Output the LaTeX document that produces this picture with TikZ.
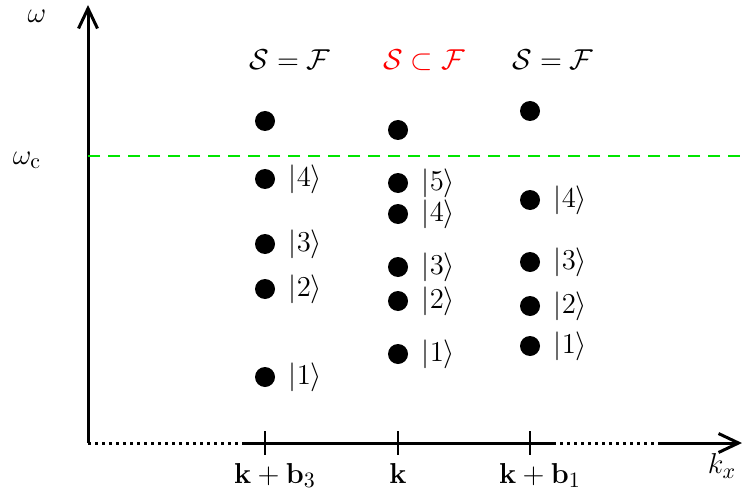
\documentclass[tikz,border=0pt]{standalone}
\usetikzlibrary{arrows.meta,positioning}
\definecolor{cutgreen}{rgb}{0,0.9,0}
\begin{document}
\begin{tikzpicture}[x=0.5pt,y=-0.5pt,
  lbl/.style={font=\fontsize{15.5}{18}\selectfont},
  dot/.style={circle,fill=black,inner sep=0pt,minimum size=10pt},
  ket/.style={right=6pt of #1,lbl,inner sep=0.5pt},
  axis/.style={line width=1.5pt},
  barb/.style={-{Straight Barb[length=10pt,width=9.5pt]}}]
\useasboundingbox (0,0) rectangle (742,502);
% axes
\coordinate (O) at (88,443);
\coordinate (ytop) at (88,5);
\coordinate (xa) at (243,443);
\coordinate (xb) at (553,443);
\coordinate (xc) at (660,443);
\coordinate (xtip) at (742,443);
\draw[axis,barb] (O) -- (ytop);
\draw[line width=1.5pt,dotted] (O) -- (xa);
\draw[axis] (xa) -- (xb);
\draw[line width=1.5pt,dotted] (xb) -- (xc);
\draw[axis,barb] (xc) -- (xtip);
\node[lbl] (w) at (37,16) {$\omega$};
\node[lbl] (kx) at (722,466) {$k_x$};
% cutoff
\coordinate (cut0) at (88,156);
\coordinate (cut1) at (742,156);
\draw[line width=1.3pt,dash pattern=on 6pt off 4pt,cutgreen] (cut0) -- (cut1);
\node[lbl] (wc) at (27,160) {$\omega_{\mathrm{c}}$};
% ticks and labels
\foreach \x in {265,398,530} {
  \draw[line width=0.75pt] (\x,431) -- (\x,455);
}
\node[lbl,anchor=base] (l3) at (275,483) {$\mathbf{k}+\mathbf{b}_3$};
\node[lbl,anchor=base] (l0) at (398,483) {$\mathbf{k}$};
\node[lbl,anchor=base] (l1) at (540,483) {$\mathbf{k}+\mathbf{b}_1$};
% titles
\node[lbl] (t1) at (290,60) {$\mathcal{S}=\mathcal{F}$};
\node[lbl,text=red] (t2) at (424,60) {$\mathcal{S}\subset\mathcal{F}$};
\node[lbl] (t3) at (553,60) {$\mathcal{S}=\mathcal{F}$};
% states
\node[dot] (a0) at (265,121) {};
\foreach \y/\i in {179/4,244/3,289/2,377/1} {
  \node[dot] (a\i) at (265,\y) {};
  \node[ket=a\i] (ka\i) {$|\i\rangle$};
}
\node[dot] (b0) at (398,130) {};
\foreach \y/\i in {183/5,214/4,267/3,301/2,354/1} {
  \node[dot] (b\i) at (398,\y) {};
  \node[ket=b\i] (kb\i) {$|\i\rangle$};
}
\node[dot] (c0) at (530,111) {};
\foreach \y/\i in {200/4,262/3,306/2,346/1} {
  \node[dot] (c\i) at (530,\y) {};
  \node[ket=c\i] (kc\i) {$|\i\rangle$};
}
\end{tikzpicture}
\end{document}
